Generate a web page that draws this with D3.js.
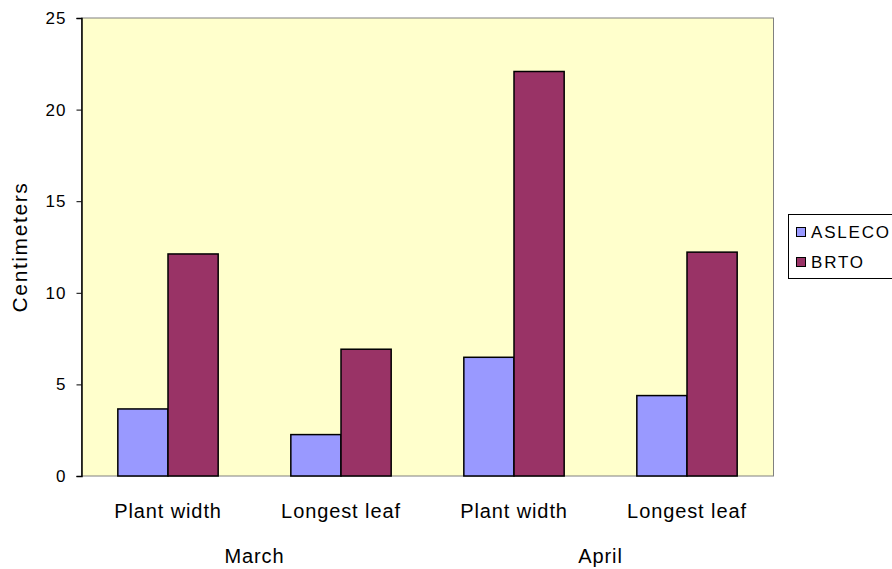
<!DOCTYPE html>
<html><head><meta charset="utf-8">
<script src="https://cdn.jsdelivr.net/npm/d3@7/dist/d3.min.js"></script>
<style>body{margin:0;background:#fff}text{font-family:"Liberation Sans",Arial,sans-serif;fill:#000}</style>
</head><body><svg id="c" width="892" height="569"></svg>
<script>
const categories = ["Plant width","Longest leaf","Plant width","Longest leaf"];
const groups = ["March","April"];
const seriesNames = ["ASLECO","BRTO"];
const asleco = [3.66, 2.26, 6.48, 4.39];
const brto = [12.12, 6.92, 22.08, 12.22];
const yTicks = [0,5,10,15,20,25];
const colors = ["#9999FF","#993366"];

const svg = d3.select("#c");
const L = 81.5, R = 773.5, T = 18, B = 476;
const x = d3.scaleBand().domain(d3.range(categories.length)).range([L,R]).paddingInner(0.42).paddingOuter(0.21);
const y = d3.scaleLinear().domain([0,25]).range([B,T]);
const xs = d3.scaleBand().domain(seriesNames).range([0,x.bandwidth()]);

svg.append("rect").attr("x",L).attr("y",T).attr("width",R-L).attr("height",B-T)
  .attr("fill","#FFFFCC").attr("stroke","#808080").attr("stroke-width",1);

const data = [asleco, brto];
const g = svg.append("g");
categories.forEach((c,i)=>{
  seriesNames.forEach((s,j)=>{
    const v = data[j][i];
    g.append("rect").attr("x",x(i)+xs(s)).attr("y",y(v)).attr("width",xs.bandwidth()).attr("height",y(0)-y(v))
      .attr("fill",colors[j]).attr("stroke","#000").attr("stroke-width",1.5);
  });
});

const ya = svg.append("g").attr("transform",`translate(${L},0)`)
  .call(d3.axisLeft(y).tickValues(yTicks).tickSize(5).tickPadding(10).tickFormat(d3.format("d")));
ya.select(".domain").attr("stroke","#000").attr("stroke-width",1.5);
ya.selectAll(".tick line").attr("stroke","#000");
ya.selectAll("text").style("font-size","17px").style("letter-spacing","1px").style("font-family","Liberation Sans, Arial, sans-serif");

const xa = svg.append("g").attr("transform",`translate(0,${B})`)
  .call(d3.axisBottom(x).tickSize(0).tickPadding(28).tickFormat(i=>categories[i]));
xa.select(".domain").remove();
xa.selectAll("text").style("font-size","20px").style("letter-spacing","0.9px").style("font-family","Liberation Sans, Arial, sans-serif");

groups.forEach((gname,k)=>{
  const cx = (x(2*k) + x(2*k+1) + x.bandwidth())/2;
  svg.append("text").attr("x",cx).attr("y",563).attr("text-anchor","middle")
    .style("font-size","20px").style("letter-spacing","0.9px").text(gname);
});

svg.append("text").attr("transform","translate(27,247) rotate(-90)").attr("text-anchor","middle")
  .style("font-size","21px").style("letter-spacing","1.6px").text("Centimeters");

const lg = svg.append("g");
lg.append("rect").attr("x",788.5).attr("y",214.5).attr("width",110).attr("height",64).attr("fill","#fff").attr("stroke","#000");
seriesNames.forEach((s,j)=>{
  const cy = 232 + j*30;
  lg.append("rect").attr("x",796.5).attr("y",cy-4.5).attr("width",9).attr("height",9).attr("fill",colors[j]).attr("stroke","#000");
  lg.append("text").attr("x",811).attr("y",cy+6).style("font-size","17px").style("letter-spacing","1.8px").text(s);
});
</script></body></html>
